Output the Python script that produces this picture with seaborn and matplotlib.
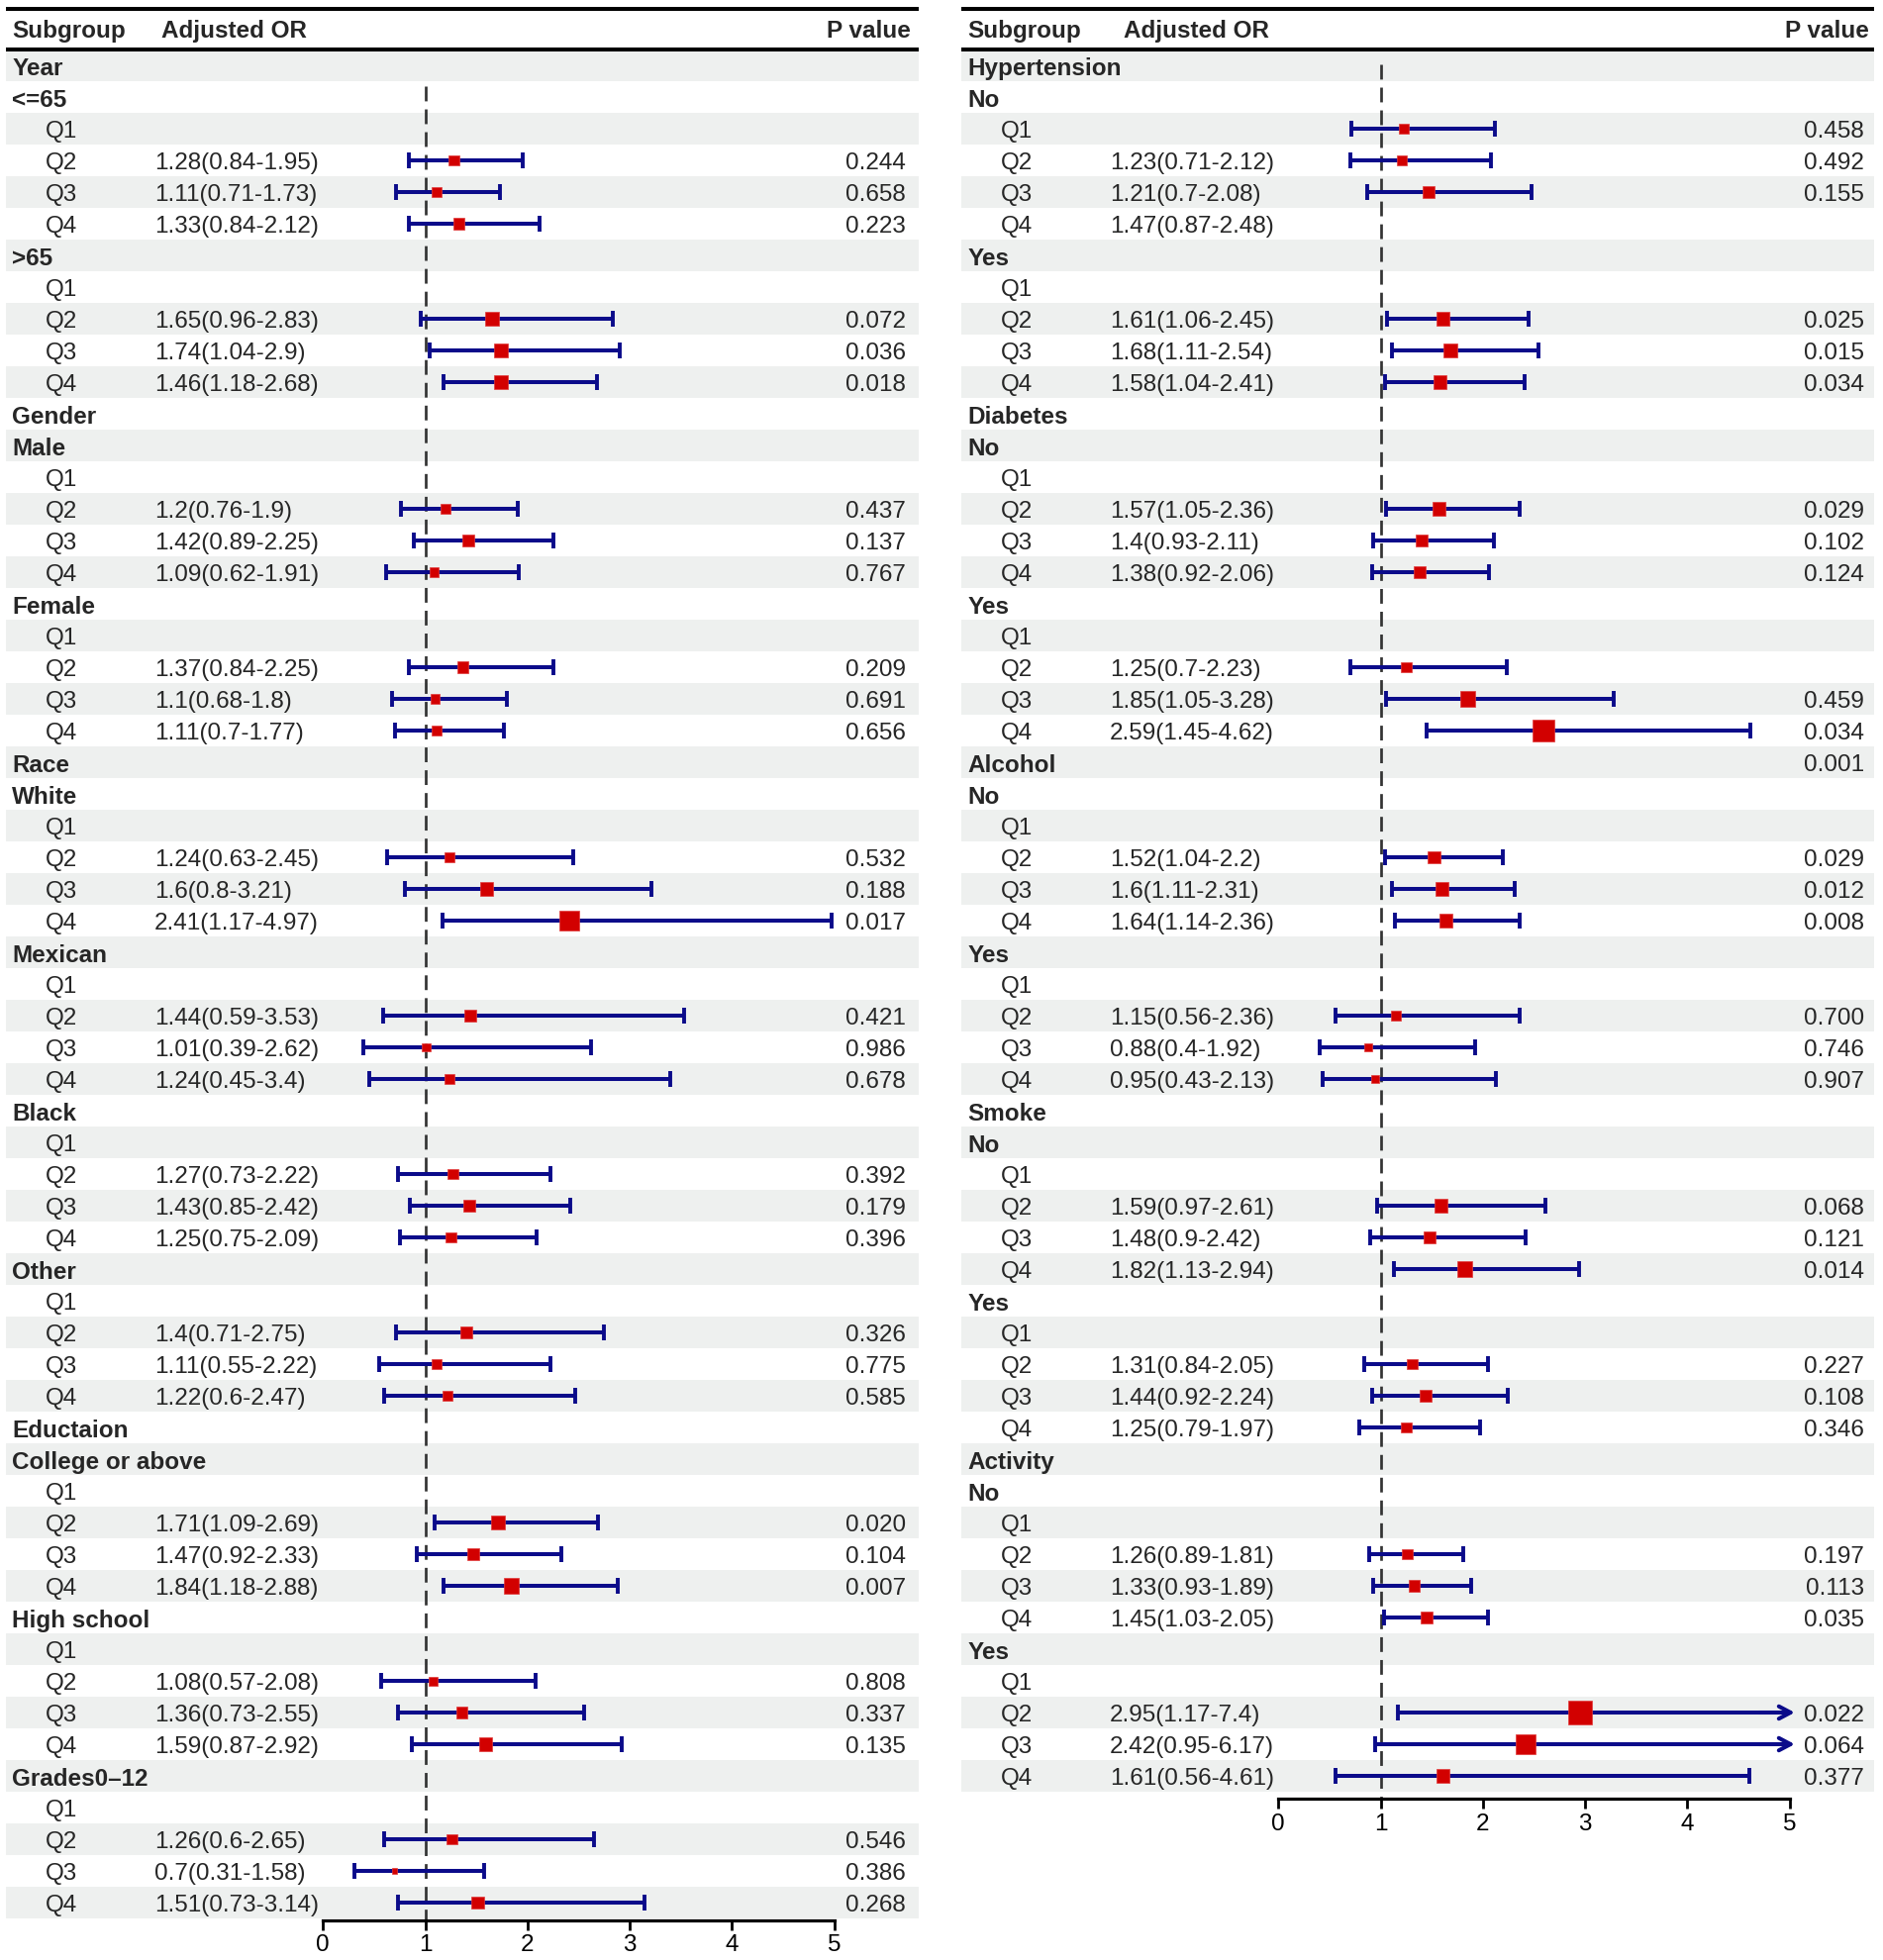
import numpy as np
import pandas as pd
import matplotlib
matplotlib.use("Agg")
import matplotlib.pyplot as plt
import seaborn as sns

# ---- left panel rows ----
left_labels = [
    "Year", "<=65", "Q1", "Q2", "Q3", "Q4", ">65", "Q1", "Q2", "Q3", "Q4",
    "Gender", "Male", "Q1", "Q2", "Q3", "Q4", "Female", "Q1", "Q2", "Q3", "Q4",
    "Race", "White", "Q1", "Q2", "Q3", "Q4", "Mexican", "Q1", "Q2", "Q3", "Q4",
    "Black", "Q1", "Q2", "Q3", "Q4", "Other", "Q1", "Q2", "Q3", "Q4",
    "Eductaion", "College or above", "Q1", "Q2", "Q3", "Q4",
    "High school", "Q1", "Q2", "Q3", "Q4", "Grades0\u201312", "Q1", "Q2", "Q3", "Q4",
]
left_or_text = [
    "", "", "", "1.28(0.84-1.95)", "1.11(0.71-1.73)", "1.33(0.84-2.12)",
    "", "", "1.65(0.96-2.83)", "1.74(1.04-2.9)", "1.46(1.18-2.68)",
    "", "", "", "1.2(0.76-1.9)", "1.42(0.89-2.25)", "1.09(0.62-1.91)",
    "", "", "1.37(0.84-2.25)", "1.1(0.68-1.8)", "1.11(0.7-1.77)",
    "", "", "", "1.24(0.63-2.45)", "1.6(0.8-3.21)", "2.41(1.17-4.97)",
    "", "", "1.44(0.59-3.53)", "1.01(0.39-2.62)", "1.24(0.45-3.4)",
    "", "", "1.27(0.73-2.22)", "1.43(0.85-2.42)", "1.25(0.75-2.09)",
    "", "", "1.4(0.71-2.75)", "1.11(0.55-2.22)", "1.22(0.6-2.47)",
    "", "", "", "1.71(1.09-2.69)", "1.47(0.92-2.33)", "1.84(1.18-2.88)",
    "", "", "1.08(0.57-2.08)", "1.36(0.73-2.55)", "1.59(0.87-2.92)",
    "", "", "1.26(0.6-2.65)", "0.7(0.31-1.58)", "1.51(0.73-3.14)",
]
left_est = [
    None, None, None, 1.28, 1.11, 1.33, None, None, 1.65, 1.74, 1.74,
    None, None, None, 1.2, 1.42, 1.09, None, None, 1.37, 1.1, 1.11,
    None, None, None, 1.24, 1.6, 2.41, None, None, 1.44, 1.01, 1.24,
    None, None, 1.27, 1.43, 1.25, None, None, 1.4, 1.11, 1.22,
    None, None, None, 1.71, 1.47, 1.84, None, None, 1.08, 1.36, 1.59,
    None, None, 1.26, 0.7, 1.51,
]
left_lo = [
    None, None, None, 0.84, 0.71, 0.84, None, None, 0.96, 1.04, 1.18,
    None, None, None, 0.76, 0.89, 0.62, None, None, 0.84, 0.68, 0.7,
    None, None, None, 0.63, 0.8, 1.17, None, None, 0.59, 0.39, 0.45,
    None, None, 0.73, 0.85, 0.75, None, None, 0.71, 0.55, 0.6,
    None, None, None, 1.09, 0.92, 1.18, None, None, 0.57, 0.73, 0.87,
    None, None, 0.6, 0.31, 0.73,
]
left_hi = [
    None, None, None, 1.95, 1.73, 2.12, None, None, 2.83, 2.9, 2.68,
    None, None, None, 1.9, 2.25, 1.91, None, None, 2.25, 1.8, 1.77,
    None, None, None, 2.45, 3.21, 4.97, None, None, 3.53, 2.62, 3.4,
    None, None, 2.22, 2.42, 2.09, None, None, 2.75, 2.22, 2.47,
    None, None, None, 2.69, 2.33, 2.88, None, None, 2.08, 2.55, 2.92,
    None, None, 2.65, 1.58, 3.14,
]
left_p = [
    "", "", "", "0.244", "0.658", "0.223", "", "", "0.072", "0.036", "0.018",
    "", "", "", "0.437", "0.137", "0.767", "", "", "0.209", "0.691", "0.656",
    "", "", "", "0.532", "0.188", "0.017", "", "", "0.421", "0.986", "0.678",
    "", "", "0.392", "0.179", "0.396", "", "", "0.326", "0.775", "0.585",
    "", "", "", "0.020", "0.104", "0.007", "", "", "0.808", "0.337", "0.135",
    "", "", "0.546", "0.386", "0.268",
]

# ---- right panel rows ----
right_labels = [
    "Hypertension", "No", "Q1", "Q2", "Q3", "Q4", "Yes", "Q1", "Q2", "Q3", "Q4",
    "Diabetes", "No", "Q1", "Q2", "Q3", "Q4", "Yes", "Q1", "Q2", "Q3", "Q4",
    "Alcohol", "No", "Q1", "Q2", "Q3", "Q4", "Yes", "Q1", "Q2", "Q3", "Q4",
    "Smoke", "No", "Q1", "Q2", "Q3", "Q4", "Yes", "Q1", "Q2", "Q3", "Q4",
    "Activity", "No", "Q1", "Q2", "Q3", "Q4", "Yes", "Q1", "Q2", "Q3", "Q4",
]
right_or_text = [
    "", "", "", "1.23(0.71-2.12)", "1.21(0.7-2.08)", "1.47(0.87-2.48)",
    "", "", "1.61(1.06-2.45)", "1.68(1.11-2.54)", "1.58(1.04-2.41)",
    "", "", "", "1.57(1.05-2.36)", "1.4(0.93-2.11)", "1.38(0.92-2.06)",
    "", "", "1.25(0.7-2.23)", "1.85(1.05-3.28)", "2.59(1.45-4.62)",
    "", "", "", "1.52(1.04-2.2)", "1.6(1.11-2.31)", "1.64(1.14-2.36)",
    "", "", "1.15(0.56-2.36)", "0.88(0.4-1.92)", "0.95(0.43-2.13)",
    "", "", "", "1.59(0.97-2.61)", "1.48(0.9-2.42)", "1.82(1.13-2.94)",
    "", "", "1.31(0.84-2.05)", "1.44(0.92-2.24)", "1.25(0.79-1.97)",
    "", "", "", "1.26(0.89-1.81)", "1.33(0.93-1.89)", "1.45(1.03-2.05)",
    "", "", "2.95(1.17-7.4)", "2.42(0.95-6.17)", "1.61(0.56-4.61)",
]
right_est = [
    None, None, 1.23, 1.21, 1.47, None, None, None, 1.61, 1.68, 1.58,
    None, None, None, 1.57, 1.4, 1.38, None, None, 1.25, 1.85, 2.59,
    None, None, None, 1.52, 1.6, 1.64, None, None, 1.15, 0.88, 0.95,
    None, None, None, 1.59, 1.48, 1.82, None, None, 1.31, 1.44, 1.25,
    None, None, None, 1.26, 1.33, 1.45, None, None, 2.95, 2.42, 1.61,
]
right_lo = [
    None, None, 0.71, 0.7, 0.87, None, None, None, 1.06, 1.11, 1.04,
    None, None, None, 1.05, 0.93, 0.92, None, None, 0.7, 1.05, 1.45,
    None, None, None, 1.04, 1.11, 1.14, None, None, 0.56, 0.4, 0.43,
    None, None, None, 0.97, 0.9, 1.13, None, None, 0.84, 0.92, 0.79,
    None, None, None, 0.89, 0.93, 1.03, None, None, 1.17, 0.95, 0.56,
]
right_hi = [
    None, None, 2.12, 2.08, 2.48, None, None, None, 2.45, 2.54, 2.41,
    None, None, None, 2.36, 2.11, 2.06, None, None, 2.23, 3.28, 4.62,
    None, None, None, 2.2, 2.31, 2.36, None, None, 2.36, 1.92, 2.13,
    None, None, None, 2.61, 2.42, 2.94, None, None, 2.05, 2.24, 1.97,
    None, None, None, 1.81, 1.89, 2.05, None, None, 7.4, 6.17, 4.61,
]
right_p = [
    "", "", "0.458", "0.492", "0.155", "", "", "", "0.025", "0.015", "0.034",
    "", "", "", "0.029", "0.102", "0.124", "", "", "", "0.459", "0.034",
    "0.001", "", "", "0.029", "0.012", "0.008", "", "", "0.700", "0.746", "0.907",
    "", "", "", "0.068", "0.121", "0.014", "", "", "0.227", "0.108", "0.346",
    "", "", "", "0.197", "0.113", "0.035", "", "", "0.022", "0.064", "0.377",
]

sns.set_theme(style="white")
plt.rcParams["font.family"] = ["Liberation Sans", "DejaVu Sans"]

W, H = 1902, 1980
FS = 17.5
NAVY = "#0b0b8a"
RED = "#d20000"
SHADE = "#eef0ef"
ROW0, ROW_H = 66, 32      # pixel centre of first row and row pitch
TOP = -1.9                # top of the axes in row units
XMIN, XMAX = -3.1, 5.83   # panel width in OR units
XMAX_PLOT = 5
TXT_DY = 0.1              # text sits a little below the row centre

fig = plt.figure(figsize=(W / 100, H / 100), dpi=100)
fig.patch.set_facecolor("white")


def draw_panel(left_px, labels, or_text, est, lo, hi, pvals, bottom_pad, dash_start,
               or_head_x, p_x):
    n = len(labels)
    ybot = n - 1 + bottom_pad
    width_px = (XMAX - XMIN) * 103.3
    top_px = ROW0 + TOP * ROW_H
    bot_px = ROW0 + ybot * ROW_H
    ax = fig.add_axes([left_px / W, 1 - bot_px / H, width_px / W, (bot_px - top_px) / H])
    ax.set_xlim(XMIN, XMAX)
    ax.set_ylim(ybot, TOP)
    ax.set_facecolor("white")

    # zebra stripes
    for i in range(0, n, 2):
        ax.axhspan(i - 0.5, i + 0.5, color=SHADE, lw=0, zorder=0)

    # header rules and header text
    ax.axhline(-1.79, color="black", lw=2.9, zorder=3)
    ax.axhline(-0.5, color="black", lw=2.9, zorder=3)
    ax.text(-3.04, -1.07, "Subgroup", fontsize=FS, fontweight="bold", va="center")
    ax.text(or_head_x, -1.07, "Adjusted OR", fontsize=FS, fontweight="bold", va="center")
    ax.text(p_x + 0.05, -1.07, "P value", fontsize=FS, fontweight="bold", va="center",
            ha="right")

    # reference line
    ax.vlines(1, dash_start, ybot, colors="#333333", lw=1.95,
              linestyles=(0, (5.5, 3.0)), zorder=2)

    df = pd.DataFrame({"row": np.arange(n), "label": labels, "txt": or_text,
                       "est": est, "lo": lo, "hi": hi, "p": pvals})

    for r in df.itertuples():
        sub = not r.label.startswith("Q") or len(r.label) > 2
        ty = r.row + TXT_DY
        ax.text(-3.04 if sub else -2.71, ty, r.label, fontsize=FS, va="center",
                fontweight="bold" if sub else "normal")
        if r.txt:
            ax.text(-1.65, ty, r.txt, fontsize=FS, va="center")
        if r.p:
            ax.text(p_x, ty, r.p, fontsize=FS, va="center", ha="right")

    ci = df.dropna(subset=["est"]).copy()
    ci["hi_draw"] = ci["hi"].clip(upper=XMAX_PLOT)
    ax.hlines(ci["row"], ci["lo"], ci["hi_draw"], color=NAVY, lw=2.9, zorder=3)
    ax.plot(ci["lo"], ci["row"], ls="none", marker="|", ms=11.5, mew=2.8,
            color=NAVY, zorder=3)
    capped = ci[ci["hi"] <= XMAX_PLOT]
    ax.plot(capped["hi"], capped["row"], ls="none", marker="|", ms=11.5, mew=2.8,
            color=NAVY, zorder=3)
    for r in ci[ci["hi"] > XMAX_PLOT].itertuples():
        ax.annotate("", xy=(XMAX_PLOT + 0.05, r.row), xytext=(XMAX_PLOT - 0.3, r.row),
                    arrowprops=dict(arrowstyle="->,head_length=0.85,head_width=0.45",
                                    color=NAVY, lw=2.9, mutation_scale=10,
                                    shrinkA=0, shrinkB=0), zorder=3)

    # point estimates: square side grows with the odds ratio
    ci["area"] = (6.0 * ci["est"]) ** 2
    amin, amax = ci["area"].min(), ci["area"].max()
    sns.scatterplot(data=ci, x="est", y="row", size="area", sizes=(amin, amax),
                    size_norm=(amin, amax), marker="s", color=RED, edgecolor="#e23a3a",
                    linewidth=0.5, legend=False, ax=ax, zorder=4)

    # axis
    for side in ["top", "left", "right"]:
        ax.spines[side].set_visible(False)
    ax.spines["bottom"].set_bounds(0, XMAX_PLOT)
    ax.spines["bottom"].set_linewidth(2.3)
    ax.spines["bottom"].set_color("black")
    ax.set_xticks(range(0, XMAX_PLOT + 1))
    ax.set_yticks([])
    ax.tick_params(axis="x", bottom=True, length=7.5, width=2.0, labelsize=FS, pad=3,
                   colors="black")
    ax.set_xlabel("")
    ax.set_ylabel("")
    return ax


draw_panel(6, left_labels, left_or_text, left_est, left_lo, left_hi, left_p,
           bottom_pad=0.55, dash_start=0.65, or_head_x=-1.58, p_x=5.70)
draw_panel(971, right_labels, right_or_text, right_est, right_lo, right_hi, right_p,
           bottom_pad=0.72, dash_start=-0.03, or_head_x=-1.51, p_x=5.73)

fig.savefig("out.png", dpi=100)
